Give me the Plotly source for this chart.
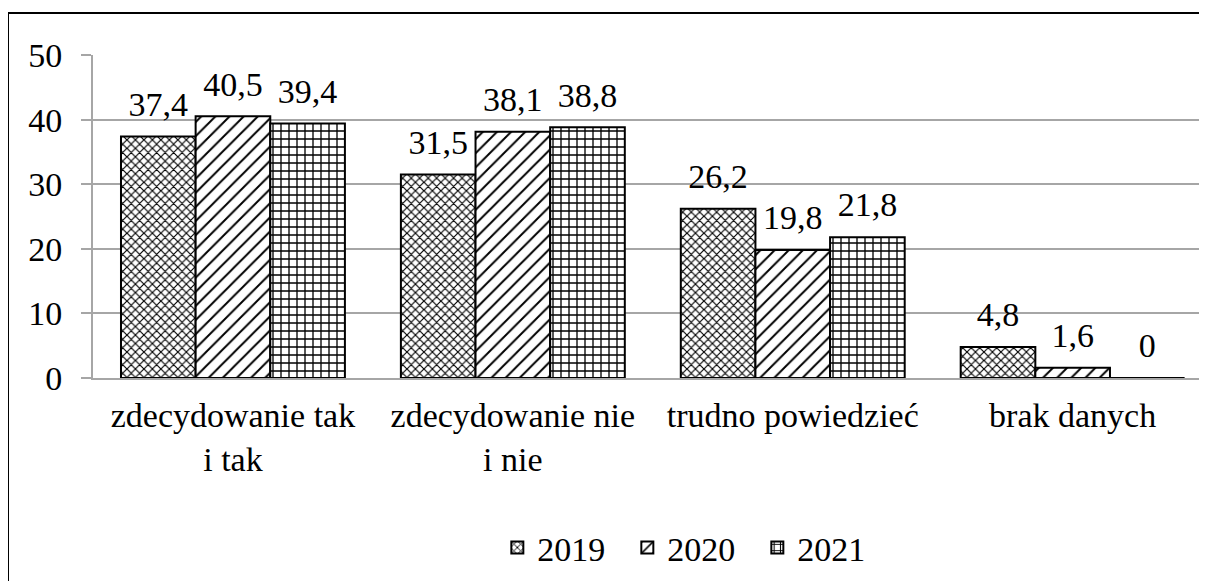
import plotly.graph_objects as go

# categories and values (percent)
categories = [
    "zdecydowanie tak<br>i tak",
    "zdecydowanie nie<br>i nie",
    "trudno powiedzieć",
    "brak danych",
]
years = ["2019", "2020", "2021"]
v2019 = [37.4, 31.5, 26.2, 4.8]
v2020 = [40.5, 38.1, 19.8, 1.6]
v2021 = [39.4, 38.8, 21.8, 0]

# approximations of the wavy / diagonal-brick / brick fills
patterns = {
    "2019": dict(shape="x", size=6, solidity=0.35),
    "2020": dict(shape="/", size=10, solidity=0.2),
    "2021": dict(shape="+", size=8, solidity=0.3),
}
FONT = "Liberation Serif"

fig = go.Figure()
for year, vals in zip(years, [v2019, v2020, v2021]):
    fig.add_trace(
        go.Bar(
            # trailing no-break spaces widen the gaps between legend entries
            name=year + "\u00a0\u00a0",
            x=categories,
            y=vals,
            offsetgroup=year,
            marker=dict(
                color="white",
                line=dict(color="black", width=2),
                pattern=dict(fgcolor="black", bgcolor="white", **patterns[year]),
            ),
        )
    )
    # value labels, lifted a bit above the bar tops
    fig.add_trace(
        go.Scatter(
            x=categories,
            y=vals,
            offsetgroup=year,
            mode="markers+text",
            text=[f"{v:g}".replace(".", ",") for v in vals],
            textposition="top center",
            textfont=dict(family=FONT, size=34, color="black"),
            marker=dict(size=18, opacity=0),
            showlegend=False,
            hoverinfo="skip",
            cliponaxis=False,
        )
    )

# page body has an 8px margin, so the figure is offset by 8px
fig.update_layout(
    width=1207,
    height=581,
    template="none",
    plot_bgcolor="white",
    paper_bgcolor="white",
    font=dict(family=FONT, size=34, color="black"),
    margin=dict(l=85, r=8, t=47, b=211),
    barmode="group",
    bargap=0.2,
    bargroupgap=0,
    scattermode="group",
    scattergap=0.2,
    showlegend=True,
    legend=dict(
        orientation="h",
        x=0.538,
        xanchor="center",
        y=-0.526,
        yanchor="middle",
        font=dict(family=FONT, size=34),
        itemwidth=30,
        traceorder="normal",
    ),
    xaxis=dict(
        range=[-0.5, 3.48],
        showline=True,
        showgrid=False,
        linecolor="#a6a6a6",
        linewidth=2,
        ticks="",
        ticklabelstandoff=6,
        tickfont=dict(family=FONT, size=34),
    ),
    yaxis=dict(
        range=[0, 50],
        dtick=10,
        showgrid=True,
        gridcolor="#a6a6a6",
        gridwidth=2,
        showline=True,
        linecolor="#a6a6a6",
        linewidth=2,
        ticks="outside",
        ticklen=10,
        tickcolor="#a6a6a6",
        tickwidth=2,
        ticklabelstandoff=12,
        tickfont=dict(family=FONT, size=34),
        zeroline=False,
    ),
    shapes=[
        dict(
            type="rect",
            xref="paper",
            yref="paper",
            x0=-0.0763,
            x1=1.2,
            y0=-0.8,
            y1=1.13,
            line=dict(color="black", width=2),
            fillcolor="rgba(0,0,0,0)",
            layer="below",
        )
    ],
)

fig.write_html("out.html")
